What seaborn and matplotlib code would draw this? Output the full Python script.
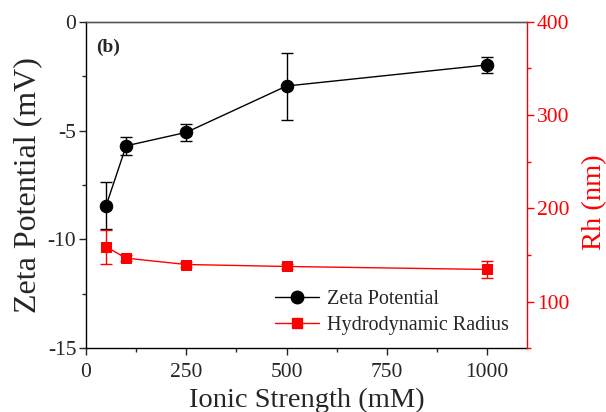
import matplotlib
matplotlib.use("Agg")
import matplotlib.pyplot as plt
import seaborn as sns
import pandas as pd
from matplotlib.ticker import MultipleLocator
from matplotlib.lines import Line2D

ionic = [50, 100, 250, 500, 1000]
zeta = [-8.45, -5.7, -5.08, -2.95, -1.98]
zeta_err = [1.07, 0.4, 0.39, 1.54, 0.35]
rh = [158.7, 146.5, 139.7, 137.6, 134.4]
rh_err = [18.0, 3.0, 3.0, 3.0, 9.0]

sns.set_style("ticks")
plt.rcParams['font.family'] = ['Liberation Serif', 'DejaVu Serif']
plt.rcParams['axes.unicode_minus'] = False

fig = plt.figure(figsize=(6.06, 4.12), dpi=100)
ax = fig.add_axes([0.142, 0.155, 0.728, 0.792])
ax2 = ax.twinx()

df = pd.DataFrame({"ionic": ionic, "zeta": zeta, "rh": rh})

ax.errorbar(ionic, zeta, yerr=zeta_err, fmt="none", ecolor="black",
            elinewidth=1.0, capsize=4, capthick=1.0, zorder=2)
sns.lineplot(data=df, x="ionic", y="zeta", ax=ax, color="black", marker="o",
             markersize=9, markeredgecolor="black", linewidth=1.0, zorder=3)

ax2.errorbar(ionic, rh, yerr=rh_err, fmt="none", ecolor="red",
             elinewidth=1.0, capsize=4, capthick=1.0, zorder=2)
sns.lineplot(data=df, x="ionic", y="rh", ax=ax2, color="red", marker="s",
             markersize=7.5, markeredgecolor="red", linewidth=1.0, zorder=3)

ax.set_xlim(0, 1100)
ax.set_ylim(-15, 0)
ax2.set_ylim(50, 400)

ax.set_xticks([0, 250, 500, 750, 1000])
ax.xaxis.set_minor_locator(MultipleLocator(125))
ax.set_yticks([0, -5, -10, -15])
ax.yaxis.set_minor_locator(MultipleLocator(2.5))
ax2.set_yticks([100, 200, 300, 400])
ax2.yaxis.set_minor_locator(MultipleLocator(50))

for a in (ax, ax2):
    a.tick_params(which="major", direction="out", length=5, width=1,
                  labelsize=15.5, pad=2)
    a.tick_params(which="minor", direction="out", length=3, width=1)
ax.tick_params(axis="x", which="major", pad=6)

ax.set_xlabel("Ionic Strength (mM)", fontsize=20.5, labelpad=4)
ax.set_ylabel("Zeta Potential (mV)", fontsize=23, labelpad=4)
ax2.set_ylabel("Rh (nm)", fontsize=20.5, color="red")
ax2.yaxis.set_label_coords(1.125, 0.448)
ax2.tick_params(axis="y", which="both", colors="red", labelcolor="red")

for s in ("top", "left", "bottom"):
    ax.spines[s].set_color("black")
    ax.spines[s].set_linewidth(1.0)
ax.spines["top"].set_visible(True)
ax.spines["right"].set_visible(False)
ax2.spines["right"].set_visible(True)
ax2.spines["right"].set_color("red")
ax2.spines["right"].set_linewidth(1.0)
ax2.spines["top"].set_visible(True)
ax2.spines["top"].set_color("#555555")
ax2.spines["left"].set_visible(False)
ax2.spines["bottom"].set_visible(False)

ax.text(0.022, 0.922, "(b)", transform=ax.transAxes, fontsize=14,
        fontweight="bold", va="center", ha="left")

handles = [
    Line2D([], [], color="black", marker="o", markersize=9, linewidth=1.0),
    Line2D([], [], color="red", marker="s", markersize=7.5, linewidth=1.0),
]
ax.legend(handles, ["Zeta Potential", "Hydrodynamic Radius"], loc="lower right",
          bbox_to_anchor=(0.995, -0.01), frameon=False, fontsize=14.5,
          handlelength=2.2, handletextpad=0.4, labelspacing=0.35,
          borderpad=0.3)

fig.savefig("out.png", dpi=100)
